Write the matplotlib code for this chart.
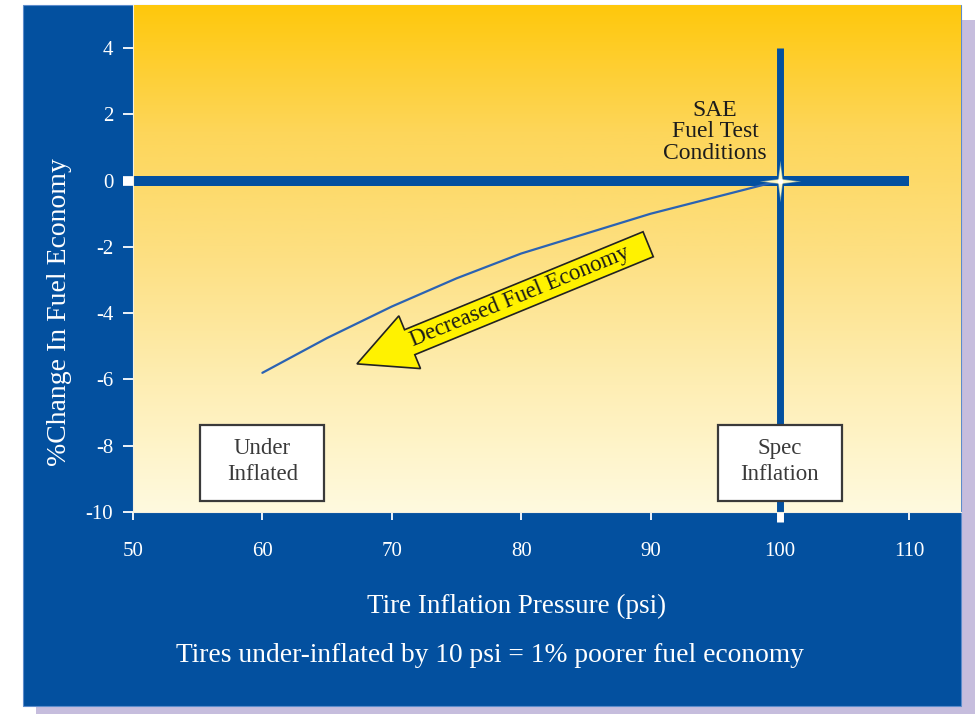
import numpy as np
import matplotlib
matplotlib.use("Agg")
import matplotlib.pyplot as plt
from matplotlib.patches import Rectangle, Polygon
from matplotlib.path import Path
from matplotlib.transforms import IdentityTransform
from matplotlib.colors import LinearSegmentedColormap

# Fuel economy versus tire inflation pressure
pressure_psi = [60, 65, 70, 75, 80, 85, 90, 95, 100]
fuel_change_pct = [-5.8, -4.75, -3.8, -2.95, -2.2, -1.6, -1.0, -0.5, 0.0]

x_ticks = [50, 60, 70, 80, 90, 100, 110]
x_tick_labels = ["50", "60", "70", "80", "90", "100", "110"]
y_ticks = [4, 2, 0, -2, -4, -6, -8, -10]
y_tick_labels = ["4", "2", "0", "-2", "-4", "-6", "-8", "-10"]

spec_pressure = 100
under_pressure = 60
baseline_change = 0

BLUE = "#03509f"
CURVE = "#2b63b3"
SHADOW = "#c6bddd"
ARROW_FILL = "#fff200"

plt.rcParams["font.family"] = ["Liberation Serif", "DejaVu Serif"]
plt.rcParams["axes.unicode_minus"] = False

W, H = 979, 714
fig = plt.figure(figsize=(W / 100, H / 100), dpi=100)
fig.patch.set_facecolor("white")


def px_rect(x0, y0, x1, y1, **kw):
    """Rectangle given in pixel coordinates measured from the top-left corner."""
    return Rectangle((x0 / W, 1 - y1 / H), (x1 - x0) / W, (y1 - y0) / H,
                     transform=fig.transFigure, **kw)


# drop shadow and blue panel
fig.patches.append(px_rect(36, 20, 975, 730, facecolor=SHADOW, edgecolor="none", zorder=-3))
fig.patches.append(px_rect(23, 5, 961, 706, facecolor=BLUE, edgecolor="#5d8ccb",
                           linewidth=0.8, zorder=-2))

ax = fig.add_axes([133 / W, 1 - 512 / H, (961 - 133) / W, (512 - 5) / H])
ax.set_zorder(5)
ax.patch.set_visible(False)

XLIM = (50, 114.0)
YLIM = (-10, 5.30)

# golden background gradient
grad = np.linspace(0, 1, 256).reshape(-1, 1)
sky = LinearSegmentedColormap.from_list(
    "gold", ["#fffadf", "#feeeb4", "#fde083", "#fdd65a", "#ffc80c"])
ax.imshow(grad, extent=[XLIM[0], XLIM[1], YLIM[0], YLIM[1]], origin="lower",
          aspect="auto", cmap=sky, zorder=0, interpolation="bilinear")
ax.set_xlim(*XLIM)
ax.set_ylim(*YLIM)

# reference cross-hair at the spec condition
ax.plot([x_ticks[0], x_ticks[-1]], [baseline_change, baseline_change], color=BLUE,
        lw=7.2, solid_capstyle="butt", zorder=2)
ax.plot([spec_pressure, spec_pressure], [y_ticks[-1], y_ticks[0]], color=BLUE,
        lw=5.0, solid_capstyle="butt", zorder=2)

# fuel economy curve
ax.plot(pressure_psi, fuel_change_pct, color=CURVE, lw=1.6, zorder=3,
        solid_capstyle="round", solid_joinstyle="round")

# sparkle at the spec point
ang = np.arange(8) * np.pi / 4
rad = np.where(np.arange(8) % 2 == 0, 1.0, 0.16)
sparkle = Path(np.column_stack([rad * np.cos(ang), rad * np.sin(ang)]).tolist()
               + [[1.0, 0.0]], closed=True)
ax.plot(spec_pressure, baseline_change, marker=sparkle, ms=30, color="#fff4a0",
        mec="none", alpha=0.55, zorder=6)
ax.plot(spec_pressure, baseline_change, marker=sparkle, ms=23, color="#fffac8",
        mec="none", zorder=6)
ax.plot(spec_pressure, baseline_change, marker="o", ms=4, color="white",
        mec="none", zorder=6)

# ticks
ax.set_xticks(x_ticks)
ax.set_xticklabels(x_tick_labels)
ax.set_yticks(y_ticks)
ax.set_yticklabels(y_tick_labels)
ax.tick_params(axis="x", direction="out", length=5.8, width=1.3, colors="white",
               labelsize=15, pad=16)
ax.tick_params(axis="y", direction="out", length=7.2, width=1.3, colors="white",
               labelsize=15, pad=7)
for t in ax.yaxis.get_major_ticks():
    if t.get_loc() == baseline_change:
        t.tick1line.set_markeredgewidth(7)
for t in ax.xaxis.get_major_ticks():
    if t.get_loc() == spec_pressure:
        t.tick1line.set_markeredgewidth(5)
        t.tick1line.set_markersize(7)

for side in ("top", "right"):
    ax.spines[side].set_visible(False)
for side in ("left", "bottom"):
    ax.spines[side].set_color("#f4f0e0")
    ax.spines[side].set_linewidth(0.8)

# annotation texts and boxes
ax.text(spec_pressure - 5.0, 1.47, "SAE\nFuel Test\nConditions", ha="center",
        va="center", fontsize=17, linespacing=1.05, color="#1c1c1c", zorder=8)


def label_box(xc, yc, text):
    cx, cy = ax.transData.transform((xc, yc))
    w, h = 124, 76
    ax.add_patch(Rectangle((cx - w / 2, cy - h / 2), w, h, transform=IdentityTransform(),
                           facecolor="white", edgecolor="#3a3a3a", lw=1.6, zorder=7))
    ax.text(xc, yc + 0.05, text, ha="center", va="center", fontsize=16.5,
            linespacing=1.28, color="#3a3a3a", zorder=8)


label_box(under_pressure, -8.53, "Under\nInflated")
label_box(spec_pressure, -8.53, "Spec\nInflation")

# "Decreased Fuel Economy" arrow, built in pixel space
tail = np.array(ax.transData.transform((89.82, -1.92)))
tip = np.array(ax.transData.transform((67.31, -5.53)))
u = (tip - tail) / np.linalg.norm(tip - tail)
n = np.array([-u[1], u[0]])
body_hw, head_hw, head_len = 13.5, 28.5, 57
neck = tip - u * head_len
arrow_pts = [tail + n * body_hw, neck + n * body_hw, neck + n * head_hw, tip,
             neck - n * head_hw, neck - n * body_hw, tail - n * body_hw]
ax.add_patch(Polygon(arrow_pts, closed=True, transform=IdentityTransform(),
                     facecolor=ARROW_FILL, edgecolor="#222222", lw=1.2,
                     joinstyle="miter", zorder=7))
text_pos = tail + (tip - tail) * 0.44
angle = np.degrees(np.arctan2(tail[1] - tip[1], tail[0] - tip[0]))
ax.text(text_pos[0], text_pos[1], "Decreased Fuel Economy", transform=IdentityTransform(),
        rotation=angle, rotation_mode="anchor", ha="center", va="center",
        fontsize=16.5, color="#1a1a1a", zorder=8)

ax.set_xlim(*XLIM)
ax.set_ylim(*YLIM)

# axis titles and caption on the blue panel
fig.text(60 / W, 1 - 312 / H, "%Change In Fuel Economy", rotation=90, ha="center",
         va="center", fontsize=20, color="white")
fig.text(517 / W, 1 - 606 / H, "Tire Inflation Pressure (psi)", ha="center",
         va="center", fontsize=19.5, color="white")
fig.text(490 / W, 1 - 655 / H, "Tires under-inflated by 10 psi = 1% poorer fuel economy",
         ha="center", va="center", fontsize=19.8, color="white")

fig.savefig("out.png", dpi=100)
